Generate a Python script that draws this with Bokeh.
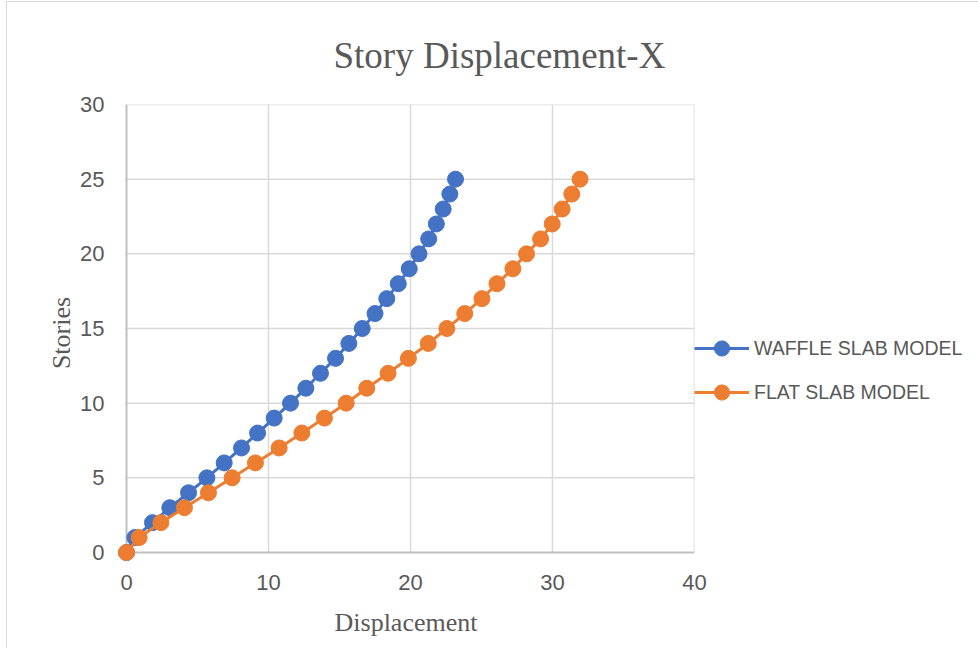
from bokeh.plotting import figure
from bokeh.models import Legend, LegendItem, Range1d, FixedTicker
from bokeh.embed import file_html
from bokeh.resources import INLINE

stories = list(range(0, 26))
waffle = [0, 0.59, 1.83, 3.05, 4.37, 5.66, 6.88, 8.1, 9.23, 10.4, 11.55, 12.63, 13.66,
          14.72, 15.66, 16.6, 17.5, 18.33, 19.14, 19.91, 20.6, 21.28, 21.82, 22.3, 22.77, 23.17]
flat = [0, 0.89, 2.42, 4.08, 5.77, 7.44, 9.08, 10.75, 12.35, 13.94, 15.47, 16.92, 18.42,
        19.85, 21.25, 22.56, 23.82, 25.03, 26.09, 27.21, 28.17, 29.16, 29.98, 30.68, 31.36, 31.94]
x_ticks = [0, 10, 20, 30, 40]
y_ticks = [0, 5, 10, 15, 20, 25, 30]
x_min, x_max = 0, 40
y_min, y_max = 0, 30
title_text = "Story Displacement-X"
x_title = "Displacement"
y_title = "Stories"
names = ["WAFFLE SLAB MODEL", "FLAT SLAB MODEL"]
colors = ["#4472C4", "#ED7D31"]

SANS = "'Liberation Sans', Arial, sans-serif"
SERIF = "'Liberation Serif', 'Times New Roman', serif"
TXT = "#595959"
GRID = "#d9d9d9"
AXIS = "#bfbfbf"

# small pad (in px) so the markers at the origin are not clipped by the frame
PAD = 9
PADX = PAD / 14.2
PADY = PAD / (448 / 30)

p = figure(output_backend="svg", toolbar_location=None,
           frame_width=568 + PAD, frame_height=448 + PAD,
           min_border_left=119 - PAD, min_border_top=102, min_border_right=250,
           min_border_bottom=96 - PAD,
           x_range=Range1d(x_min - PADX, x_max), y_range=Range1d(y_min - PADY, y_max))
p.outline_line_color = None
p.background_fill_color = "white"
p.border_fill_color = "white"
p.xgrid.visible = False
p.ygrid.visible = False

p.title.text = title_text
p.title.text_font = SERIF
p.title.text_font_size = "37px"
p.title.text_font_style = "normal"
p.title.text_color = TXT
p.title.align = "left"
p.title.offset = 207 + PAD
p.title.standoff = 58

for ax in (p.xaxis[0], p.yaxis[0]):
    ax.axis_line_color = None
    ax.major_tick_line_color = None
    ax.minor_tick_line_color = None
    ax.major_label_text_font = SANS
    ax.major_label_text_font_size = "22px"
    ax.major_label_text_color = TXT
    ax.axis_label_text_font = SERIF
    ax.axis_label_text_font_size = "26px"
    ax.axis_label_text_font_style = "normal"
    ax.axis_label_text_color = TXT

p.xaxis.ticker = FixedTicker(ticks=x_ticks)
p.yaxis.ticker = FixedTicker(ticks=y_ticks)
p.xaxis.axis_label = x_title
p.yaxis.axis_label = y_title
p.xaxis.major_label_standoff = 16 - PAD
p.yaxis.major_label_standoff = 16 - PAD
p.xaxis.axis_label_standoff = 15
p.yaxis.axis_label_standoff = 1

# gridlines, bounded to the data area
vx = [t for t in x_ticks if t != x_min]
p.segment(x0=vx, y0=[y_min] * len(vx), x1=vx, y1=[y_max] * len(vx),
          line_color=GRID, line_width=1.5)
hy = [t for t in y_ticks if t != y_min]
p.segment(x0=[x_min] * len(hy), y0=hy, x1=[x_max] * len(hy), y1=hy,
          line_color=GRID, line_width=1.5)
# axis lines
p.segment(x0=[x_min, x_min], y0=[y_min, y_min], x1=[x_max, x_min], y1=[y_min, y_max],
          line_color=AXIS, line_width=2)

items = []
for xs, name, c in ((waffle, names[0], colors[0]), (flat, names[1], colors[1])):
    l = p.line(xs, stories, line_color=c, line_width=3)
    s = p.scatter(xs, stories, size=16, fill_color=c, line_color=c)
    items.append(LegendItem(label=name, renderers=[l, s]))

legend = Legend(items=items, location=(0, 141 + PAD), orientation="vertical",
                glyph_width=55, glyph_height=38, label_height=38, spacing=6,
                label_standoff=5, padding=0, margin=0,
                border_line_color=None, background_fill_alpha=0,
                label_text_font=SANS, label_text_font_size="19.5px", label_text_color=TXT)
p.add_layout(legend, "right")

p.styles = {"border-left": "1.5px solid #d9d9d9", "border-top": "1.5px solid #d9d9d9",
            "margin-left": "6px", "margin-top": "1px"}

open("out.html", "w").write(file_html(p, INLINE))
